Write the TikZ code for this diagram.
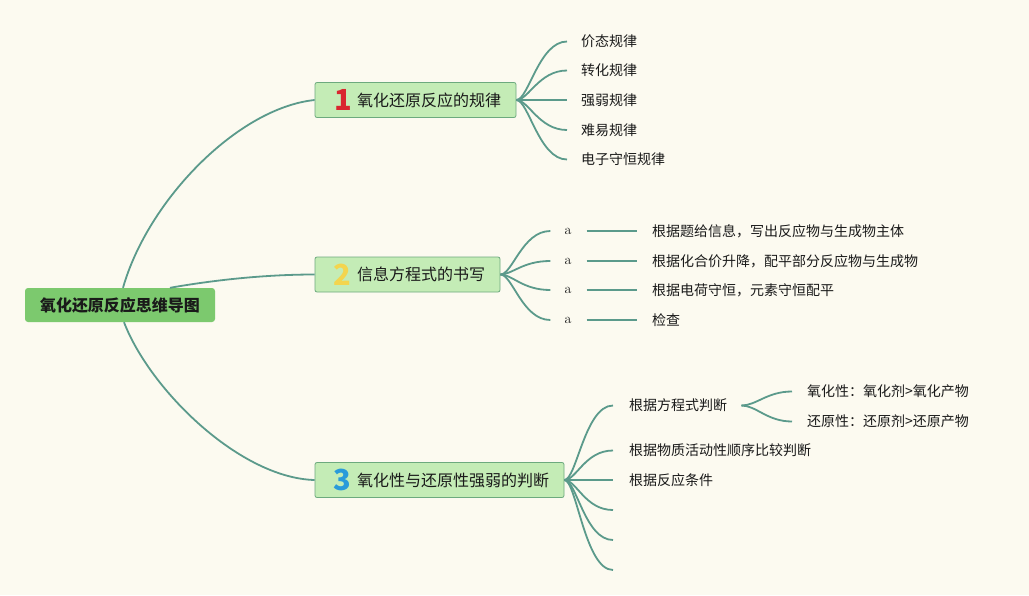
\documentclass[tikz,border=0pt]{standalone}
\usepackage{fontspec}
\newfontfamily\cjk{Noto Sans CJK SC}
\definecolor{bg}{HTML}{FCFAF0}
\definecolor{lc}{HTML}{5B9A8B}
\definecolor{rootg}{HTML}{7CC96E}
\definecolor{brf}{HTML}{C4ECB6}
\definecolor{brd}{HTML}{6DAA7E}
\definecolor{tx}{HTML}{1A1A1A}
\definecolor{numa}{HTML}{D9262F}
\definecolor{numb}{HTML}{F3D54E}
\definecolor{numc}{HTML}{2A9BDA}
\tikzset{
  rootbox/.style={fill=rootg, rounded corners=3pt, minimum width=190pt, minimum height=34pt, inner sep=0pt,
    text=tx, font=\cjk\bfseries\fontsize{16}{16}\selectfont},
  brbox/.style={fill=brf, draw=brd, line width=0.8pt, rounded corners=2pt, minimum height=35pt, inner sep=0pt},
  numtext/.style={inner sep=0pt, font=\cjk\bfseries\fontsize{29}{29}\selectfont},
  brtext/.style={inner sep=0pt, anchor=west, text=tx, font=\cjk\fontsize{16}{16}\selectfont},
  leaf/.style={inner sep=0pt, anchor=west, text=tx, font=\cjk\fontsize{14}{14}\selectfont},
  aleaf/.style={inner sep=0pt, text=tx, font=\fontsize{14}{14}\selectfont},
  link/.style={draw=lc, line width=1.8pt},
}
\begin{document}
\begin{tikzpicture}[x=1pt,y=-1pt]
\fill[bg] (0,0) rectangle (1029,595);
\useasboundingbox (0,0) rectangle (1029,595);

% root
\node[rootbox] (root) at (120,305) {氧化还原反应思维导图};

% branches
\node[brbox, minimum width=201pt] (b1) at (415.5,100) {};
\node[numtext, text=numa] (n1) at (343,100) {1};
\node[brtext] (l1) at (357,100) {氧化还原反应的规律};

\node[brbox, minimum width=185pt] (b2) at (407.5,274.5) {};
\node[numtext, text=numb] (n2) at (342.5,274.5) {2};
\node[brtext] (l2) at (357,274.5) {信息方程式的书写};

\node[brbox, minimum width=249pt] (b3) at (439.5,480) {};
\node[numtext, text=numc] (n3) at (342.5,480) {3};
\node[brtext] (l3) at (357,480) {氧化性与还原性强弱的判断};

% root links
\draw[link] ([xshift=3pt]root.north) .. controls (148,200) and (238,108) .. (b1.west);
\draw[link] ([xshift=50pt]root.north) .. controls (220,279) and (270,274.5) .. (b2.west);
\draw[link] ([xshift=4pt]root.south) .. controls (150,390) and (240,478) .. (b3.west);

% branch 1 leaves
\node[leaf] (c11) at (581,41.5) {价态规律};
\node[leaf] (c12) at (581,70.5) {转化规律};
\node[leaf] (c13) at (581,100) {强弱规律};
\node[leaf] (c14) at (581,130) {难易规律};
\node[leaf] (c15) at (581,159.5) {电子守恒规律};
\foreach \c in {c11,c12,c13,c14,c15}
  \draw[link] (b1.east) .. controls +(12,0) and +(-28,0) .. ([xshift=-14pt]\c.west);

% branch 2 leaves
\node[aleaf] (a21) at (568,231) {a};
\node[aleaf] (a22) at (568,261) {a};
\node[aleaf] (a23) at (568,290) {a};
\node[aleaf] (a24) at (568,320) {a};
\node[leaf] (t21) at (652,231) {根据题给信息，写出反应物与生成物主体};
\node[leaf] (t22) at (652,261) {根据化合价升降，配平部分反应物与生成物};
\node[leaf] (t23) at (652,290) {根据电荷守恒，元素守恒配平};
\node[leaf] (t24) at (652,320) {检查};
\foreach \a/\t in {a21/t21,a22/t22,a23/t23,a24/t24}{
  \draw[link] (b2.east) .. controls +(12,0) and +(-28,0) .. ([xshift=-14pt]\a.west);
  \draw[link] ([xshift=15pt]\a.east) -- ([xshift=-15pt]\t.west);
}

% branch 3 leaves
\node[leaf] (c31) at (629,405.5) {根据方程式判断};
\node[leaf] (c32) at (629,450.5) {根据物质活动性顺序比较判断};
\node[leaf] (c33) at (629,480) {根据反应条件};
\coordinate (e34) at (613,510);
\coordinate (e35) at (613,540);
\coordinate (e36) at (613,570);
\foreach \c in {c31,c32,c33}
  \draw[link] (b3.east) .. controls +(12,0) and +(-28,0) .. ([xshift=-16pt]\c.west);
\foreach \c in {e34,e35,e36}
  \draw[link] (b3.east) .. controls +(12,0) and +(-28,0) .. (\c);

% sub leaves
\node[leaf] (c311) at (807,391.5) {氧化性：氧化剂>氧化产物};
\node[leaf] (c312) at (807,421.5) {还原性：还原剂>还原产物};
\foreach \c in {c311,c312}
  \draw[link] ([xshift=14pt]c31.east) .. controls +(15,0) and +(-25,0) .. ([xshift=-15pt]\c.west);
\end{tikzpicture}
\end{document}
